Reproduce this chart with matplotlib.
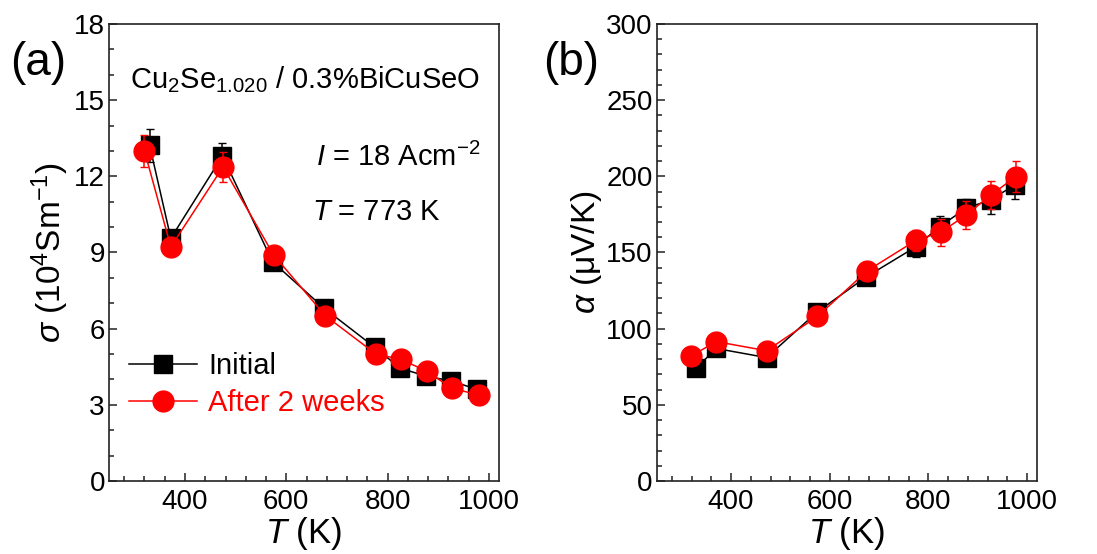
import matplotlib
matplotlib.use("Agg")
import matplotlib.pyplot as plt
from matplotlib.lines import Line2D

plt.rcParams['font.family'] = ['Liberation Sans', 'DejaVu Sans']
plt.rcParams['mathtext.fontset'] = 'custom'
plt.rcParams['mathtext.rm'] = 'Liberation Sans'
plt.rcParams['mathtext.it'] = 'Liberation Sans:italic'

# (a) electrical conductivity, 10^4 S/m
T_init_a = [330, 372, 474, 573, 675, 775, 825, 876, 926, 976]
sig_init = [13.23, 9.56, 12.80, 8.63, 6.80, 5.26, 4.44, 4.13, 3.94, 3.61]
sig_init_err = [0.65, 0.30, 0.50, 0.30, 0.20, 0.20, 0.20, 0.20, 0.15, 0.15]
T_aged_a = [320, 372, 475, 575, 677, 777, 826, 877, 927, 980]
sig_aged = [13.00, 9.22, 12.37, 8.90, 6.51, 5.00, 4.79, 4.33, 3.65, 3.39]
sig_aged_err = [0.63, 0.30, 0.60, 0.25, 0.20, 0.20, 0.20, 0.20, 0.15, 0.15]

# (b) Seebeck coefficient, uV/K
T_init_b = [329, 370, 472, 574, 674, 775, 823, 876, 926, 975]
alpha_init = [74, 87, 81, 110.8, 134, 153.8, 167, 179, 184.5, 194.4]
alpha_init_err = [3, 3, 3, 4, 5, 7, 7, 6, 9, 9]
T_aged_b = [319, 370, 472, 575, 676, 775, 825, 877, 927, 977]
alpha_aged = [82, 91.5, 85.5, 108, 138, 158, 163.3, 174.7, 187.8, 199.8]
alpha_aged_err = [3, 3, 3, 4, 5, 7, 9, 9, 9, 10]

fig = plt.figure(figsize=(10.97, 5.54), dpi=100)
ax1 = fig.add_axes([0.0994, 0.1318, 0.3555, 0.8249])
ax2 = fig.add_axes([0.5989, 0.1318, 0.3464, 0.8249])

tick_fs = 20
for ax in (ax1, ax2):
    ax.set_xlim(250, 1020)
    ax.set_xticks([400, 600, 800, 1000])
    ax.set_xticks(range(280, 1020, 40), minor=True)
    ax.tick_params(which='both', direction='in', top=False, right=False,
                   labelsize=tick_fs, width=1.1, color='#222222')
    ax.tick_params(which='major', length=6)
    ax.tick_params(which='minor', length=3.5)
    ax.tick_params(axis='x', which='major', pad=6)
    ax.tick_params(axis='y', which='major', pad=3)
    for s in ax.spines.values():
        s.set_linewidth(1.2)
        s.set_color('#222222')
    ax.set_xlabel(r'$\mathit{T}$ (K)', fontsize=25, labelpad=0)

# panel (a)
ax1.errorbar(T_init_a, sig_init, yerr=sig_init_err, color='black', marker='s',
             markersize=13, linewidth=1.1, capsize=3, elinewidth=1.1, zorder=2)
ax1.errorbar(T_aged_a, sig_aged, yerr=sig_aged_err, color='red', marker='o',
             markersize=15, linewidth=1.1, capsize=3, elinewidth=1.1, zorder=3)
ax1.set_ylim(0, 18)
ax1.set_yticks(range(0, 19, 3))
ax1.set_yticks(range(0, 19, 1), minor=True)
ax1.set_ylabel(r'$\mathit{\sigma}$ (10$^4$Sm$^{-1}$)', fontsize=24, labelpad=2)

handles = [Line2D([], [], color='black', marker='s', markersize=13, linewidth=1.1),
           Line2D([], [], color='red', marker='o', markersize=15, linewidth=1.1)]
leg = ax1.legend(handles, ['Initial', 'After 2 weeks'], loc='lower left',
                 bbox_to_anchor=(0.0, 0.095), frameon=False,
                 fontsize=21, handlelength=2.3, handletextpad=0.4,
                 labelspacing=0.3, borderaxespad=0.3, numpoints=1)
for txt, c in zip(leg.get_texts(), ['black', 'red']):
    txt.set_color(c)

ax1.text(0.055, 0.86, r'Cu$_2$Se$_{1.020}$ / 0.3%BiCuSeO', transform=ax1.transAxes,
         fontsize=21, va='baseline')
ax1.text(0.53, 0.69, r'$\mathit{I}$ = 18 Acm$^{-2}$', transform=ax1.transAxes,
         fontsize=21, va='baseline')
ax1.text(0.52, 0.57, r'$\mathit{T}$ = 773 K', transform=ax1.transAxes,
         fontsize=21, va='baseline')

# panel (b)
ax2.errorbar(T_init_b, alpha_init, yerr=alpha_init_err, color='black', marker='s',
             markersize=13, linewidth=1.1, capsize=3, elinewidth=1.1, zorder=2)
ax2.errorbar(T_aged_b, alpha_aged, yerr=alpha_aged_err, color='red', marker='o',
             markersize=15, linewidth=1.1, capsize=3, elinewidth=1.1, zorder=3)
ax2.set_ylim(0, 300)
ax2.set_yticks(range(0, 301, 50))
ax2.set_yticks(range(0, 301, 10), minor=True)
ax2.set_ylabel(r'$\mathit{\alpha}$ (μV/K)', fontsize=24, labelpad=2)

fig.text(0.009, 0.886, '(a)', fontsize=33, va='center')
fig.text(0.495, 0.886, '(b)', fontsize=33, va='center')

fig.savefig('out.png', dpi=100)
